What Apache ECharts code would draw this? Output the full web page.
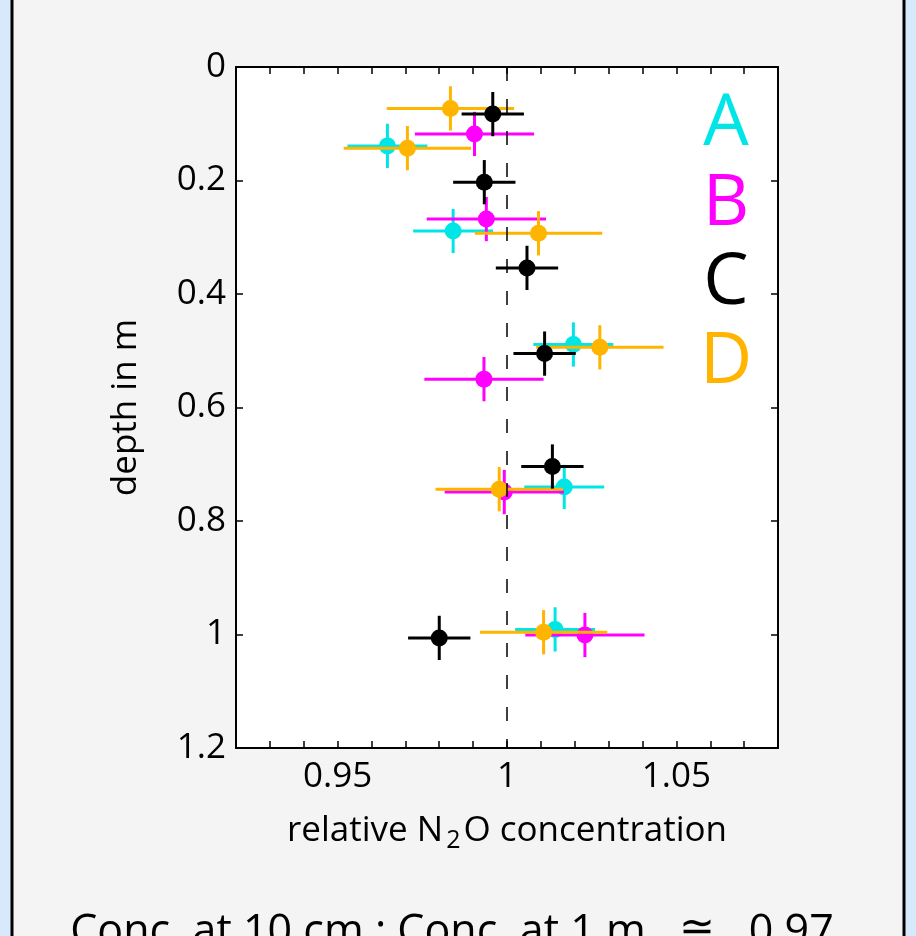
<!DOCTYPE html>
<html>
<head>
<meta charset="utf-8">
<script src="https://cdn.jsdelivr.net/npm/echarts@6/dist/echarts.min.js"></script>
<style>
  html, body { margin: 0; padding: 0; background: #d6eafc; }
  #chart { width: 916px; height: 936px; }
</style>
</head>
<body>
<div id="chart"></div>
<script>
// site names and colours
const sites = ['A', 'B', 'C', 'D']
const siteColors = ['#00e6e6', '#ff00ff', '#000000', '#ffb400']

// relative N2O concentration (x) and depth in m (y) per site
const aX = [0.9647, 0.9841, 1.0196, 1.0169, 1.0142]
const aY = [0.139, 0.289, 0.489, 0.740, 0.991]
const bX = [0.9904, 0.9939, 0.9932, 0.9992, 1.0230]
const bY = [0.118, 0.268, 0.550, 0.749, 1.001]
const cX = [0.9958, 0.9933, 1.0059, 1.0111, 1.0134, 0.9800]
const cY = [0.083, 0.203, 0.354, 0.505, 0.704, 1.006]
const dX = [0.9833, 0.9706, 1.0093, 1.0274, 0.9977, 1.0108]
const dY = [0.073, 0.143, 0.293, 0.494, 0.744, 0.996]

// half widths of the error bars per site
const xErr = [0.0118, 0.0176, 0.0092, 0.0188]
const yErr = [0.039, 0.039, 0.039, 0.039]

// tick labels
const xTickLabels = { 95: '0.95', 100: '1', 105: '1.05' }

const siteX = [aX, bX, cX, dX]
const siteY = [aY, bY, cY, dY]

const chart = echarts.init(document.getElementById('chart'))

const fontFamily = '"Open Sans", "Noto Sans", sans-serif'

// error bar + dot per point
const makeSeries = (i) => ({
  name: sites[i],
  type: 'custom',
  xAxisIndex: 0,
  yAxisIndex: 0,
  clip: false,
  data: siteX[i].map((x, k) => [x, siteY[i][k], xErr[i], yErr[i]]),
  renderItem: (params, api) => {
    const x = api.value(0)
    const y = api.value(1)
    const ex = api.value(2)
    const ey = api.value(3)
    const c = api.coord([x, y])
    const l = api.coord([x - ex, y])
    const r = api.coord([x + ex, y])
    const t = api.coord([x, y - ey])
    const b = api.coord([x, y + ey])
    const col = siteColors[i]
    return {
      type: 'group',
      children: [
        { type: 'line', shape: { x1: l[0], y1: l[1], x2: r[0], y2: r[1] }, style: { stroke: col, lineWidth: 3 } },
        { type: 'line', shape: { x1: t[0], y1: t[1], x2: b[0], y2: b[1] }, style: { stroke: col, lineWidth: 3 } },
        { type: 'circle', shape: { cx: c[0], cy: c[1], r: 8.5 }, style: { fill: col } }
      ]
    }
  }
})

// draw order: A, B, D, C (C on top)
const seriesList = [0, 1, 3, 2].map(makeSeries)

// dashed reference line at 1
seriesList.unshift({
  type: 'line',
  data: [],
  silent: true,
  markLine: {
    symbol: 'none',
    silent: true,
    label: { show: false },
    lineStyle: { color: '#000', width: 1.5, type: [14, 18] },
    data: [{ xAxis: 1 }]
  }
})

const axisCommon = {
  axisLine: { show: true, onZero: false, lineStyle: { color: '#000', width: 2 } },
  axisTick: { show: true, inside: true, length: 7, lineStyle: { color: '#000', width: 1.5 } },
  splitLine: { show: false }
}

const option = {
  backgroundColor: '#d6eafc',
  animation: false,
  textStyle: { fontFamily },
  graphic: [
    {
      type: 'rect',
      z: -10,
      shape: { x: 12, y: -10, width: 892, height: 960 },
      style: { fill: '#f4f4f4', stroke: '#000', lineWidth: 3 }
    },
    ...sites.map((s, i) => ({
      type: 'text',
      x: 726,
      y: [124, 204, 283, 362][i],
      style: {
        text: s,
        fill: siteColors[i],
        font: '72px ' + fontFamily,
        textAlign: 'center',
        textVerticalAlign: 'middle'
      }
    })),
    {
      type: 'text',
      x: 452,
      y: 933,
      style: {
        text: 'Conc. at 10 cm : Conc. at 1 m   \u2245   0.97',
        fill: '#000',
        font: '43px ' + fontFamily,
        textAlign: 'center',
        textVerticalAlign: 'middle'
      }
    }
  ],
  grid: {
    left: 236,
    top: 67,
    width: 542,
    height: 681,
    show: true,
    backgroundColor: '#fff',
    borderWidth: 0
  },
  xAxis: [
    {
      type: 'value',
      position: 'bottom',
      min: 0.92,
      max: 1.08,
      interval: 0.01,
      ...axisCommon,
      axisLabel: {
        color: '#000',
        fontSize: 35,
        margin: 12,
        fontFamily,
        formatter: (v) => xTickLabels[Math.round(v * 100)] || ''
      },
      name: 'relative N{sub|2}O concentration',
      nameLocation: 'middle',
      nameGap: 62,
      nameTextStyle: {
        color: '#000',
        fontSize: 35,
        fontFamily,
        rich: {
          sub: { fontSize: 25, padding: [18, 3, 0, 3], fontFamily }
        }
      }
    },
    {
      type: 'value',
      position: 'top',
      min: 0.92,
      max: 1.08,
      interval: 0.01,
      ...axisCommon,
      axisLabel: { show: false }
    }
  ],
  yAxis: [
    {
      type: 'value',
      position: 'left',
      inverse: true,
      min: 0,
      max: 1.2,
      interval: 0.2,
      ...axisCommon,
      axisLabel: { color: '#000', fontSize: 35, margin: 10, fontFamily },
      name: 'depth in m',
      nameLocation: 'middle',
      nameGap: 92,
      nameTextStyle: { color: '#000', fontSize: 35, fontFamily }
    },
    {
      type: 'value',
      position: 'right',
      inverse: true,
      min: 0,
      max: 1.2,
      interval: 0.2,
      ...axisCommon,
      axisLabel: { show: false }
    }
  ],
  series: seriesList
}

chart.setOption(option)
</script>
</body>
</html>
